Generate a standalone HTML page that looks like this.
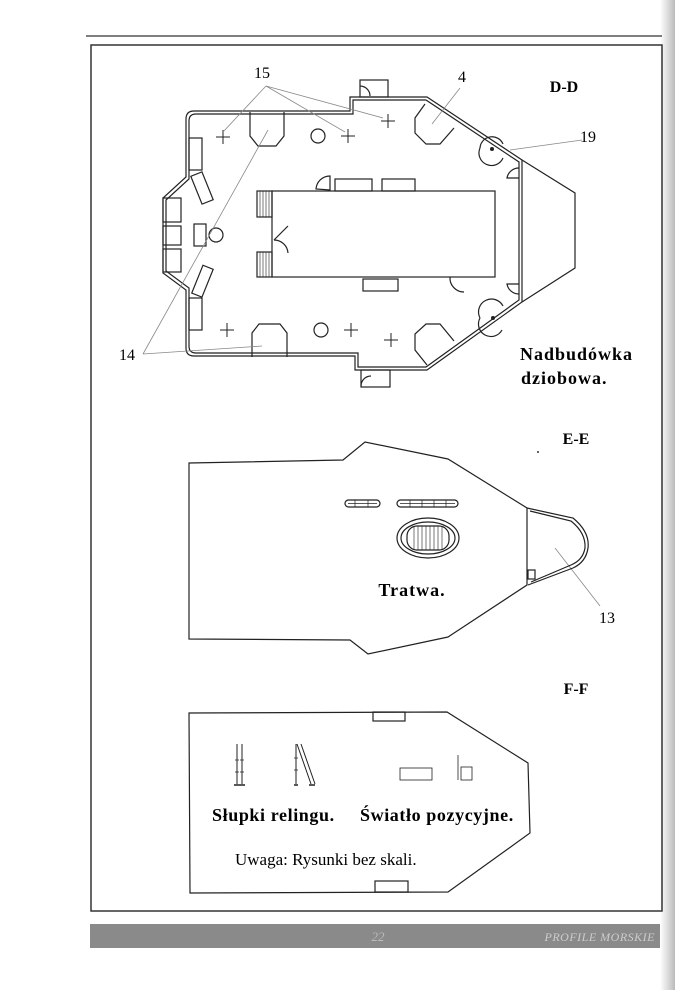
<!DOCTYPE html>
<html><head><meta charset="utf-8"><style>
html,body{margin:0;padding:0;background:#fff;}
svg{display:block}
</style></head><body>
<svg width="675" height="990" viewBox="0 0 675 990" xmlns="http://www.w3.org/2000/svg" font-family="Liberation Serif, serif">
<defs><linearGradient id="g" x1="0" x2="1"><stop offset="0" stop-color="#fff"/><stop offset="1" stop-color="#bbb"/></linearGradient></defs>
<rect x="0" y="0" width="675" height="990" fill="#fff"/>
<rect x="660" y="0" width="15" height="990" fill="url(#g)"/>
<line x1="86" y1="36" x2="662" y2="36" stroke="#555" stroke-width="1.5"/>
<rect x="91" y="45" width="571" height="866" fill="none" stroke="#333" stroke-width="1.5"/>
<rect x="90" y="924" width="570" height="24" fill="#8a8a8a"/>
<text x="378" y="941" font-size="13" font-style="italic" fill="#bbb" text-anchor="middle">22</text>
<text x="655" y="941" font-size="12" font-style="italic" fill="#ccc" text-anchor="end" letter-spacing="0.5">PROFILE MORSKIE</text>

<g fill="none" stroke="#222" stroke-width="1.2">
<path d="M194,111 L350,111 L350,97 L427,97 L522,160 L522,302 L427,370 L355,370 L355,356 L194,356 Q186,356 186,348 L186,290 L163,273 L163,198 L186,177 L186,119 Q186,111 194,111 Z"/>
<path d="M196,114 L353,114 L353,100 L426,100 L519,162 L519,300 L426,367 L358,367 L358,353 L196,353 Q189,353 189,346 L189,288 L166,271 L166,200 L189,179 L189,121 Q189,114 196,114 Z"/>
<path d="M522,160 L575,193 L575,268 L522,302"/>
<rect x="272" y="191" width="223" height="86"/>
<rect x="257" y="191" width="15" height="26"/><rect x="257" y="252" width="15" height="25"/>
<path d="M260,191v26M263,191v26M266,191v26M269,191v26M260,252v25M263,252v25M266,252v25M269,252v25" stroke-width="0.6"/>
<rect x="335" y="179" width="37" height="12"/><rect x="382" y="179" width="33" height="12"/>
<rect x="363" y="279" width="35" height="12"/>
<rect x="360" y="80" width="28" height="17"/><rect x="361" y="370" width="29" height="17"/>
<path d="M360,86 A10,10 0 0 1 370,96" /><path d="M361,386 A10,10 0 0 1 371,376"/>
<path d="M316,189 A14,14 0 0 1 330,176 L330,190 Z"/>
<path d="M274,240 A14,14 0 0 1 288,253 M274,240 L288,226"/>
<path d="M450,277 A14,14 0 0 0 464,292"/>
<rect x="163" y="198" width="18" height="24"/><rect x="163" y="226" width="18" height="19"/><rect x="163" y="249" width="18" height="23"/>
<rect x="194" y="224" width="12" height="22"/><circle cx="216" cy="235" r="7"/>
<rect x="189" y="138" width="13" height="32"/><rect x="189" y="298" width="13" height="32"/>
<rect x="196" y="173" width="12" height="30" transform="rotate(-22 202 188)"/>
<rect x="197" y="266" width="11" height="30" transform="rotate(22 202 281)"/>
<path d="M250,112 L250,136 L258,146 L276,146 L284,136 L284,112"/>
<path d="M252,357 L252,333 L259,324 L280,324 L287,333 L287,357"/>
<path d="M425,104 L415,118 L415,133 L426,144 L440,144 L454,128"/>
<path d="M454,341 L440,324 L426,324 L415,334 L415,350 L427,365"/>
<path d="M480,148 A12,12 0 0 0 503,158" /><path d="M480,148 A12,12 0 0 1 503,144"/>
<path d="M480,318 A12,12 0 0 1 503,306"/><path d="M480,318 A12,12 0 0 0 502,330"/>
<path d="M519,168 A12,12 0 0 0 507,178 L519,178"/>
<path d="M519,294 A12,12 0 0 1 507,284 L519,284"/>
<circle cx="318" cy="136" r="7"/><circle cx="321" cy="330" r="7"/>
<path d="M216,137h14M223,130v14 M341,136h14M348,129v14 M381,121h14M388,114v14 M220,330h14M227,323v14 M344,330h14M351,323v14 M384,340h14M391,333v14" stroke-width="1"/>
</g>
<circle cx="492" cy="149" r="2" fill="#222"/><circle cx="493" cy="318" r="2" fill="#222"/>
<g stroke="#888" stroke-width="0.8" fill="none">
<path d="M266,86 L223,132 M266,86 L383,118 M266,86 L345,132"/>
<path d="M460,88 L432,124"/><path d="M582,140 L510,150"/>
<path d="M143,354 L262,346 M143,354 L268,130"/>
<path d="M600,606 L555,548"/>
</g>
<text x="262" y="78" font-size="16" text-anchor="middle">15</text>
<text x="462" y="82" font-size="16" text-anchor="middle">4</text>
<text x="588" y="142" font-size="16" text-anchor="middle">19</text>
<text x="127" y="360" font-size="16" text-anchor="middle">14</text>
<text x="564" y="92" font-size="16" font-weight="bold" text-anchor="middle">D-D</text>
<text x="520" y="360" font-size="18" font-weight="bold" letter-spacing="1">Nadbudówka</text>
<text x="521" y="384" font-size="18" font-weight="bold" letter-spacing="1">dziobowa.</text>

<g fill="none" stroke="#222" stroke-width="1.2">
<path d="M189,463 L343,460 L365,442 L448,459 L527,508 L527,585 L448,637 L368,654 L350,640 L189,639 Z"/>
<path d="M527,508 L573,518 Q590,532 588,548 Q586,562 573,568 L528,585"/>
<path d="M530,511 L571,521 Q586,533 585,548 Q583,560 571,565 L531,582"/>
<rect x="528" y="570" width="7" height="9"/>
<rect x="345" y="500" width="35" height="7" rx="3.5"/><rect x="397" y="500" width="61" height="7" rx="3.5"/>
<path d="M348,503.5h29M400,503.5h55M355,500v7M368,500v7M410,500v7M422,500v7M434,500v7M446,500v7" stroke-width="0.7"/>
<ellipse cx="428" cy="538" rx="31" ry="20"/><ellipse cx="428" cy="538" rx="27" ry="16"/>
<rect x="407" y="526" width="42" height="24" rx="10"/>
<path d="M414,526v24M418,526v24M422,526v24M426,526v24M430,526v24M434,526v24M438,526v24M442,526v24" stroke-width="0.6"/>
</g>
<circle cx="538" cy="452" r="1" fill="#333"/>
<text x="576" y="444" font-size="16" font-weight="bold" text-anchor="middle">E-E</text>
<text x="412" y="596" font-size="18" font-weight="bold" text-anchor="middle" letter-spacing="1">Tratwa.</text>
<text x="607" y="623" font-size="16" text-anchor="middle">13</text>

<g fill="none" stroke="#222" stroke-width="1.2">
<path d="M189,713 L447,712 L528,763 L530,833 L448,892 L190,893 Z"/>
<rect x="373" y="712" width="32" height="9"/><rect x="375" y="881" width="33" height="11"/>
<path d="M237,744v40M242,744v40M296,744v40M297,744L311,784M301,744L315,784" stroke-width="1"/>
<path d="M234,785h6M240,785h5M294,785h4M309,785h6" stroke-width="1.5"/>
<path d="M235,760h4M240,760h4M235,772h4M240,772h4M294,758h4M294,770h4" stroke-width="0.8"/>
<rect x="400" y="768" width="32" height="12" stroke-width="0.8"/><rect x="461" y="767" width="11" height="13" stroke-width="0.8"/>
<path d="M458,755v25" stroke-width="0.8"/>
</g>
<text x="576" y="694" font-size="16" font-weight="bold" text-anchor="middle">F-F</text>
<text x="212" y="821" font-size="18" font-weight="bold" letter-spacing="0.6">Słupki relingu.</text>
<text x="360" y="821" font-size="18" font-weight="bold" letter-spacing="0.6">Światło pozycyjne.</text>
<text x="235" y="865" font-size="17">Uwaga: Rysunki bez skali.</text>
</svg>
</body></html>
